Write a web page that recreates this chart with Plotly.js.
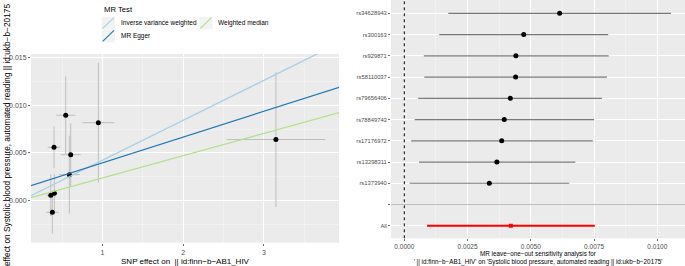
<!DOCTYPE html>
<html>
<head>
<meta charset="utf-8">
<script src="https://cdn.plot.ly/plotly-3.0.1.min.js"></script>
<style>html,body{margin:0;padding:0;background:#fff}#chart{width:685px;height:266px}</style>
</head>
<body>
<div id="chart"></div>
<script>
// ---------- DATA: scatter (left panel) ----------
const snpBetaExposure = [0.546, 0.950, 0.401, 0.608, 0.591, 0.361, 0.405, 0.380, 3.149];
const snpBetaOutcome  = [0.00895, 0.00817, 0.00558, 0.00480, 0.00270, 0.00053, 0.00074, -0.00126, 0.00640];
const snpSeExposure   = [0.118, 0.197, 0.079, 0.124, 0.128, 0.050, 0.040, 0.080, 0.610];
const snpSeOutcome    = [0.00410, 0.00630, 0.00220, 0.00330, 0.00410, 0.00220, 0.00200, 0.00225, 0.00710];

const methodNames      = ["Inverse variance weighted", "MR Egger", "Weighted median"];
const methodSlopes     = [0.00421, 0.002716, 0.00235];
const methodIntercepts = [0, 0.00122, 0];

// ---------- DATA: leave-one-out (right panel) ----------
const looLabels = ["rs34628943", "rs300163", "rs929871", "rs58110037", "rs79656406",
                   "rs78849743", "rs17176972", "rs13298311", "rs1373940"];
const looEst   = [0.00614, 0.00472, 0.00441, 0.00440, 0.00419, 0.00395, 0.00385, 0.00366, 0.00336];
const looLower = [0.00174, 0.00138, 0.00077, 0.00079, 0.00055, 0.00041, 0.00027, 0.00058, 0.00021];
const looUpper = [0.01054, 0.00806, 0.00808, 0.00801, 0.00781, 0.00750, 0.00745, 0.00676, 0.00652];
const allLabel = "All";
const allEst = [0.00421];
const allLower = [0.00090];
const allUpper = [0.00753];

// ---------- layout helpers ----------
const W = 685, H = 266;
const px = v => v / W;
const py = v => 1 - v / H;
const FONT = "Liberation Sans, Arial, Helvetica, sans-serif";
const methodColors = ["#A6CEE3", "#1F78B4", "#B2DF8A"];

const xRange1 = [0.116, 3.93];
const yRange1 = [-0.00446, 0.0154];

const traces = [];
traces.push({
  type: "scatter", mode: "markers", xaxis: "x", yaxis: "y",
  x: snpBetaExposure, y: snpBetaOutcome,
  marker: {color: "#000", size: 5},
  error_x: {type: "data", array: snpSeExposure, visible: true, color: "#BEBEBE", thickness: 1, width: 0},
  error_y: {type: "data", array: snpSeOutcome, visible: true, color: "#BEBEBE", thickness: 1, width: 0},
  showlegend: false, hoverinfo: "skip"
});
methodNames.forEach((m, i) => {
  const xs = [0, 5];
  traces.push({
    type: "scatter", mode: "lines", xaxis: "x", yaxis: "y",
    x: xs, y: xs.map(v => methodIntercepts[i] + methodSlopes[i] * v),
    line: {color: methodColors[i], width: 1.2},
    name: m, showlegend: false, hoverinfo: "skip"
  });
});

const looIdx = looLabels.map((_, i) => i);
const allIdx = [looLabels.length + 1];
traces.push({
  type: "scatter", mode: "markers", xaxis: "x2", yaxis: "y2",
  x: looEst, y: looIdx,
  marker: {color: "#000", size: 5},
  error_x: {type: "data", symmetric: false,
            array: looUpper.map((u, i) => u - looEst[i]),
            arrayminus: looLower.map((l, i) => looEst[i] - l),
            color: "#7a7a7a", thickness: 1.2, width: 0},
  showlegend: false, hoverinfo: "skip"
});
traces.push({
  type: "scatter", mode: "markers", xaxis: "x2", yaxis: "y2",
  x: allEst, y: allIdx,
  marker: {color: "#FF0000", size: 4, symbol: "square"},
  error_x: {type: "data", symmetric: false,
            array: allUpper.map((u, i) => u - allEst[i]),
            arrayminus: allLower.map((l, i) => allEst[i] - l),
            color: "#FF0000", thickness: 2, width: 0},
  showlegend: false, hoverinfo: "skip"
});

const tickvals2 = looLabels.map((_, i) => i).concat([looLabels.length, looLabels.length + 1]);
const ticktext2 = looLabels.concat(["", allLabel]);

const tickFont = {family: FONT, size: 7, color: "#4D4D4D"};
const gridMinor = "rgba(255,255,255,0.55)";

const layout = {
  width: W, height: H,
  margin: {l: 0, r: 0, t: 0, b: 0, pad: 0},
  paper_bgcolor: "#FFFFFF", plot_bgcolor: "#EBEBEB",
  showlegend: false,
  font: {family: FONT},
  xaxis: {
    domain: [px(31), px(339)], range: xRange1, anchor: "y",
    dtick: 1, tick0: 0, showgrid: true, gridcolor: "#FFFFFF", gridwidth: 1,
    minor: {dtick: 0.5, tick0: 0, showgrid: true, gridcolor: gridMinor, gridwidth: 0.6},
    zeroline: false, showline: false,
    ticks: "outside", ticklen: 2.5, tickcolor: "#333", tickwidth: 0.7,
    tickfont: tickFont,
    title: {text: "SNP effect on  || id:finn\u2212b\u2212AB1_HIV", font: {family: FONT, size: 8, color: "#000"}, standoff: 3}
  },
  yaxis: {
    domain: [1 - 242.7 / H, 1 - 54 / H], range: yRange1, anchor: "x",
    dtick: 0.005, tick0: 0, tickformat: ".3f",
    showgrid: true, gridcolor: "#FFFFFF", gridwidth: 1,
    minor: {dtick: 0.0025, tick0: 0, showgrid: true, gridcolor: gridMinor, gridwidth: 0.6},
    zeroline: false, showline: false,
    ticks: "outside", ticklen: 2, tickcolor: "#333", tickwidth: 0.7,
    tickfont: tickFont
  },
  xaxis2: {
    domain: [px(391), 1], range: [-0.000526, 0.011095], anchor: "y2",
    dtick: 0.0025, tick0: 0, tickformat: ".4f",
    showgrid: true, gridcolor: "#FFFFFF", gridwidth: 1,
    minor: {dtick: 0.00125, tick0: 0, showgrid: true, gridcolor: gridMinor, gridwidth: 0.6},
    zeroline: false, showline: false,
    ticks: "outside", ticklen: 2, tickcolor: "#333", tickwidth: 0.7,
    tickfont: {family: FONT, size: 6.5, color: "#4D4D4D"},
    title: {text: "MR leave\u2212one\u2212out sensitivity analysis for<br>' || id:finn\u2212b\u2212AB1_HIV' on 'Systolic blood pressure, automated reading || id:ukb\u2212b\u221220175'",
            font: {family: FONT, size: 6.3, color: "#000"}, standoff: 2}
  },
  yaxis2: {
    domain: [1 - 238.3 / H, 1], range: [10.59, -0.626], anchor: "x2",
    tickmode: "array", tickvals: tickvals2, ticktext: ticktext2,
    showgrid: true, gridcolor: "#FFFFFF", gridwidth: 1,
    zeroline: false, showline: false,
    ticks: "outside", ticklen: 2, tickcolor: "#333", tickwidth: 0.7,
    tickfont: {family: FONT, size: 5.8, color: "#4D4D4D"}
  },
  shapes: [
    {type: "line", xref: "x2 domain", yref: "y2", x0: 0, x1: 1, y0: looLabels.length, y1: looLabels.length,
     line: {color: "#BEBEBE", width: 1}},
    {type: "line", xref: "x2", yref: "y2 domain", x0: 0, x1: 0, y0: 0, y1: 1,
     line: {color: "#000", width: 1, dash: "dot"}},
    {type: "rect", xref: "paper", yref: "paper", x0: px(101.7), x1: px(115), y0: py(29.3), y1: py(16.7),
     fillcolor: "#F2F2F2", line: {width: 0}},
    {type: "rect", xref: "paper", yref: "paper", x0: px(101.7), x1: px(115), y0: py(42.3), y1: py(29.3),
     fillcolor: "#F2F2F2", line: {width: 0}},
    {type: "rect", xref: "paper", yref: "paper", x0: px(199.3), x1: px(212.6), y0: py(29.3), y1: py(16.7),
     fillcolor: "#F2F2F2", line: {width: 0}},
    {type: "line", xref: "paper", yref: "paper", x0: px(102.7), x1: px(114), y0: py(28.3), y1: py(17.7),
     line: {color: methodColors[0], width: 1.1}},
    {type: "line", xref: "paper", yref: "paper", x0: px(102.7), x1: px(114), y0: py(41.3), y1: py(30.3),
     line: {color: methodColors[1], width: 1.1}},
    {type: "line", xref: "paper", yref: "paper", x0: px(200.3), x1: px(211.6), y0: py(28.3), y1: py(17.7),
     line: {color: methodColors[2], width: 1.1}}
  ],
  annotations: [
    {xref: "paper", yref: "paper", x: px(101.5), y: py(9), xanchor: "left", yanchor: "middle",
     text: "MR Test", showarrow: false, font: {family: FONT, size: 7.7, color: "#000"}},
    {xref: "paper", yref: "paper", x: px(118.5), y: py(23), xanchor: "left", yanchor: "middle",
     text: methodNames[0], showarrow: false, font: {family: FONT, size: 6.5, color: "#000"}},
    {xref: "paper", yref: "paper", x: px(118.5), y: py(36), xanchor: "left", yanchor: "middle",
     text: methodNames[1], showarrow: false, font: {family: FONT, size: 6.5, color: "#000"}},
    {xref: "paper", yref: "paper", x: px(216.3), y: py(23), xanchor: "left", yanchor: "middle",
     text: methodNames[2], showarrow: false, font: {family: FONT, size: 6.5, color: "#000"}},
    {xref: "paper", yref: "paper", x: px(6.5), y: py(2.5), xanchor: "center", yanchor: "top", textangle: -90,
     text: "effect on Systolic blood pressure, automated reading || id:ukb\u2212b\u221220175",
     showarrow: false, font: {family: FONT, size: 8.3, color: "#000"}}
  ]
};

Plotly.newPlot("chart", traces, layout, {staticPlot: true, displayModeBar: false});
</script>
</body>
</html>
